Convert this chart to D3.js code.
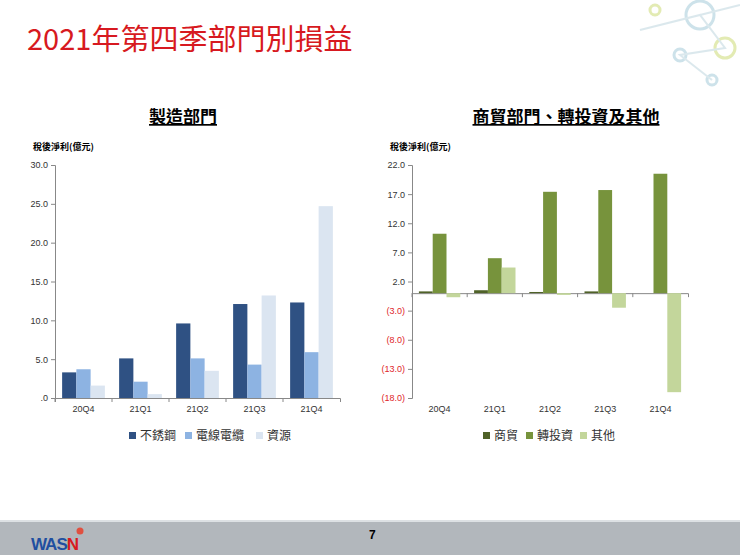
<!DOCTYPE html><html><head><meta charset="utf-8"><script src="https://cdn.jsdelivr.net/npm/d3@7"></script>
<style>body{margin:0;background:#fff}svg{display:block;font-family:"Noto Sans CJK TC","Noto Sans",sans-serif}</style></head><body><svg id="s" width="740" height="555"></svg>
<script>
const categories=["20Q4","21Q1","21Q2","21Q3","21Q4"];
const mfgSeries=["不銹鋼","電線電纜","資源"];
const mfgStainless=[3.3,5.1,9.6,12.1,12.3];
const mfgCable=[3.7,2.1,5.1,4.3,5.9];
const mfgResource=[1.6,0.5,3.5,13.2,24.7];
const mfgTicks=[0,5,10,15,20,25,30];
const trdSeries=["商貿","轉投資","其他"];
const trdTrade=[0.3,0.5,0.2,0.3,0.0];
const trdInvest=[10.2,6.0,17.4,17.7,20.5];
const trdOther=[-0.7,4.4,-0.3,-2.5,-17.0];
const trdTicks=[22,17,12,7,2,-3,-8,-13,-18];

const svg=d3.select("#s");
const dec=svg.append("g").attr("opacity",0.5);
[[700,15,14,"#9cc7d6"],[725,48,10,"#c8d86a"],[680,55,6,"#9cc7d6"],[655,10,5,"#c8d86a"],[712,80,5,"#9cc7d6"]].forEach(c=>dec.append("circle").attr("cx",c[0]).attr("cy",c[1]).attr("r",c[2]).attr("fill","none").attr("stroke",c[3]).attr("stroke-width",3));
dec.append("path").attr("d","M640,30L700,15L725,48L680,55L712,80M700,15L740,5").attr("stroke","#b9d3dc").attr("stroke-width",2).attr("fill","none");

svg.append("text").attr("x",27).attr("y",50).attr("fill","#d71920").attr("font-size",29).text("2021年第四季部門別損益");
function sub(x,t){svg.append("text").attr("x",x).attr("y",123).attr("text-anchor","middle").attr("font-size",17).attr("font-weight","bold").attr("text-decoration","underline").text(t);}
sub(183,"製造部門");sub(566,"商貿部門、轉投資及其他");

function chart(o){
  const g=svg.append("g");
  g.append("text").attr("x",o.x0-22).attr("y",150).attr("font-size",9).attr("font-weight","bold").text("稅後淨利(億元)");
  const x=d3.scaleBand().domain(categories).range([o.x0,o.x1]);
  const y=d3.scaleLinear().domain(o.dom).range([398,165]);
  const yAx=g.append("g").attr("transform",`translate(${o.x0},0)`).call(d3.axisLeft(y).tickValues(o.ticks).tickSize(4).tickFormat(o.fmt));
  yAx.selectAll("text").attr("font-size",9).attr("font-family","Liberation Sans,sans-serif").attr("fill",d=>d<0?"#e0262b":"#333");
  yAx.selectAll("line,path").attr("stroke","#888");
  const xAx=g.append("g").attr("transform",`translate(0,${y(0)})`).call(d3.axisBottom(x).tickSize(4).tickFormat(""));
  xAx.selectAll("line,path").attr("stroke","#888");
  xAx.selectAll(".tick").attr("transform",d=>`translate(${x(d)},0)`);
  g.append("g").selectAll("text").data(categories).join("text").attr("x",d=>x(d)+x.bandwidth()/2).attr("y",412).attr("text-anchor","middle").attr("font-size",9).attr("font-family","Liberation Sans,sans-serif").attr("fill","#333").text(d=>d);
  const bw=x.bandwidth()*0.25;
  o.data.forEach((arr,i)=>{
    g.append("g").selectAll("rect").data(arr).join("rect")
     .attr("x",(d,j)=>x(categories[j])+x.bandwidth()/2-1.5*bw+i*bw).attr("width",bw)
     .attr("y",d=>y(Math.max(0,d))).attr("height",d=>Math.abs(y(d)-y(0))).attr("fill",o.colors[i]);
  });
  const lg=g.append("g");
  o.names.forEach((n,i)=>{
    const lx=o.lx[i];
    lg.append("rect").attr("x",lx).attr("y",432).attr("width",7).attr("height",7).attr("fill",o.colors[i]);
    lg.append("text").attr("x",lx+11).attr("y",440).attr("font-size",12).attr("fill","#333").text(n);
  });
}
chart({x0:55,x1:340,dom:[0,30],ticks:mfgTicks,fmt:d=>d===0?".0":d.toFixed(1),data:[mfgStainless,mfgCable,mfgResource],colors:["#2f5183","#8db3e2","#dbe5f1"],names:mfgSeries,lx:[129,185,256]});
chart({x0:412,x1:688,dom:[-18,22],ticks:trdTicks,fmt:d=>d<0?`(${(-d).toFixed(1)})`:d.toFixed(1),data:[trdTrade,trdInvest,trdOther],colors:["#4f6228","#77933c","#c3d69b"],names:trdSeries,lx:[483,526,580]});

svg.append("rect").attr("x",0).attr("y",521).attr("width",740).attr("height",34).attr("fill","#b2b7bc");
svg.append("line").attr("x1",0).attr("x2",740).attr("y1",521).attr("y2",521).attr("stroke","#dde1e4").attr("stroke-width",2);
svg.append("text").attr("x",369).attr("y",539).attr("font-size",12).attr("font-family","Liberation Sans").attr("font-weight","bold").text("7");
const logo=svg.append("text").attr("x",31).attr("y",550).attr("font-size",17).attr("font-weight","900").attr("font-family","Liberation Sans").attr("letter-spacing",-1);
logo.append("tspan").attr("fill","#1f4fa0").text("WAS");
logo.append("tspan").attr("fill","#d71920").text("N");
svg.append("circle").attr("cx",80).attr("cy",531).attr("r",3.5).attr("fill","#e05040");
</script></body></html>
